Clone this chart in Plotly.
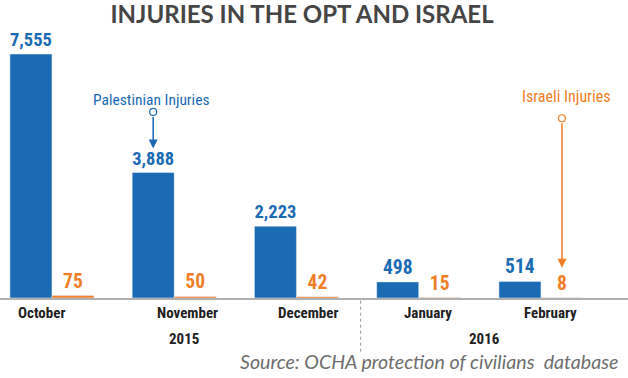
import plotly.graph_objects as go

months = ["October", "November", "December", "January", "February"]
palestinian = [7555, 3888, 2223, 498, 514]
israeli = [75, 50, 42, 15, 8]
years = ["2015", "2016"]

BLUE = "#1a6bb4"
ORANGE = "#f07e26"
COND = "Liberation Sans Narrow, Roboto Condensed, Arial Narrow, sans-serif"

fig = go.Figure()
fig.add_trace(go.Bar(x=months, y=palestinian, name="Palestinian Injuries",
                     marker_color=BLUE, text=palestinian, texttemplate="%{y:,}",
                     textposition="outside", cliponaxis=False,
                     textfont=dict(family=COND, size=19.5, color=BLUE, weight="bold")))
fig.add_trace(go.Bar(x=months, y=israeli, name="Israeli Injuries",
                     marker_color=ORANGE, text=israeli, texttemplate="%{y:,}",
                     textposition="outside", cliponaxis=False,
                     textfont=dict(family=COND, size=19.5, color=ORANGE, weight="bold")))

fig.update_layout(
    width=628, height=378,
    margin=dict(l=0, r=0, t=30, b=80),
    paper_bgcolor="white", plot_bgcolor="white",
    barmode="group", bargap=0.313, bargroupgap=0,
    showlegend=False,
    title=dict(text="<b>INJURIES IN THE OPT AND ISRAEL</b>", x=0.481, xanchor="center",
               y=0.961, yanchor="middle",
               font=dict(family="Lato, Inter, sans-serif", size=24, color="#454545")),
)
fig.update_xaxes(range=[-0.425, 4.712], showticklabels=False, ticks="",
                 showline=True, linecolor="#b0b0b0", linewidth=1.5, showgrid=False)
fig.update_yaxes(range=[0, 8300], visible=False, showgrid=False)

# month labels
month_shift = [-10, 13, 12, 9, 10]
for m, s in zip(months, month_shift):
    fig.add_annotation(x=m, y=0, yref="y", yshift=-15, xshift=s, text=m,
                       showarrow=False, yanchor="middle",
                       font=dict(family=COND, size=15, color="#222222", weight="bold"))
# years
fig.add_annotation(x=1, y=0, yref="y", yshift=-41, xshift=10, text=years[0],
                   showarrow=False, yanchor="middle",
                   font=dict(family=COND, size=15, color="#222222", weight="bold"))
fig.add_annotation(x=3.5, y=0, yref="y", yshift=-41, xshift=5, text=years[1],
                   showarrow=False, yanchor="middle",
                   font=dict(family=COND, size=15, color="#222222", weight="bold"))
# separator
fig.add_shape(type="line", xref="x", yref="paper", x0=2.525, x1=2.525, y0=-0.01, y1=-0.2,
              line=dict(color="#999999", width=1, dash="dot"))

# source
fig.add_annotation(xref="paper", yref="paper", x=0.988, y=-0.238, xanchor="right",
                   yanchor="middle", showarrow=False,
                   text="<i>Source: OCHA protection of civilians  database</i>",
                   font=dict(family="Lato, Open Sans, sans-serif", size=19.6, color="#6e6e6e"))

off = 0.172
# Palestinian callout
px_ = 1 - off
fig.add_annotation(x=px_, y=palestinian[1], yref="y", yshift=24, text="", showarrow=True,
                   ax=0, ay=-33, arrowhead=2, arrowsize=1.2, arrowwidth=1.5, arrowcolor=BLUE)
fig.add_shape(type="circle", xref="x", yref="y", xsizemode="pixel", ysizemode="pixel",
              xanchor=px_, yanchor=palestinian[1], x0=-3.5, x1=3.5, y0=57, y1=64,
              line=dict(color=BLUE, width=1.2), fillcolor="white")
fig.add_annotation(x=px_, y=palestinian[1], yref="y", yshift=72, xshift=-2,
                   text="Palestinian Injuries", showarrow=False, yanchor="middle",
                   font=dict(family=COND, size=15.5, color=BLUE))
# Israeli callout
ix = 4 + off
fig.add_annotation(x=ix, y=israeli[4], yref="y", yshift=30, text="", showarrow=True,
                   ax=0, ay=-146, arrowhead=2, arrowsize=1.2, arrowwidth=1.5, arrowcolor=ORANGE)
fig.add_shape(type="circle", xref="x", yref="y", xsizemode="pixel", ysizemode="pixel",
              xanchor=ix, yanchor=israeli[4], x0=-3.5, x1=3.5, y0=176, y1=183,
              line=dict(color=ORANGE, width=1.2), fillcolor="white")
fig.add_annotation(x=ix, y=israeli[4], yref="y", yshift=201, xshift=4,
                   text="Israeli Injuries", showarrow=False, yanchor="middle",
                   font=dict(family=COND, size=16, color=ORANGE))

fig.write_html("out.html", config={"displayModeBar": False},
               post_script="document.body.style.margin='0';")
